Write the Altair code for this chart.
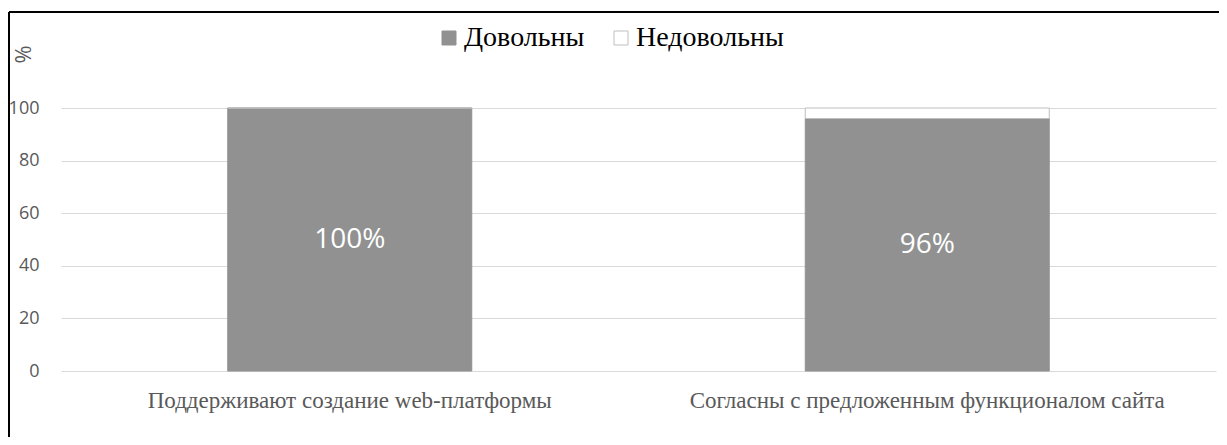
import altair as alt
import pandas as pd

categories = ["Поддерживают создание web-платформы", "Согласны с предложенным функционалом сайта"]
series = ["Довольны", "Недовольны"]
satisfied = [100, 96]
unsatisfied = [0, 4]
y_ticks = [0, 20, 40, 60, 80, 100]

rows = []
for i, c in enumerate(categories):
    rows.append({"cat": c, "group": series[0], "value": satisfied[i], "ord": 0})
    rows.append({"cat": c, "group": series[1], "value": unsatisfied[i], "ord": 1})
df = pd.DataFrame(rows)

W, H = 1155, 263

x_enc = alt.X("cat:N", sort=categories, title=None,
              scale=alt.Scale(paddingInner=0, paddingOuter=0),
              axis=alt.Axis(labelAngle=0, labelFont="Liberation Serif", labelFontSize=23,
                            labelColor="#595959", labelPadding=18, ticks=False, tickSize=0,
                            domain=False, grid=False, labelLimit=600))

bars = alt.Chart(df).mark_bar(size=244, strokeWidth=1).encode(
    x=x_enc,
    y=alt.Y("value:Q", stack="zero", title="%",
            scale=alt.Scale(domain=[0, 100], nice=False),
            axis=alt.Axis(values=y_ticks, labelFont="Open Sans", labelFontSize=18,
                          labelColor="#595959", labelPadding=22, ticks=False, tickSize=0,
                          domain=False, gridColor="#d9d9d9", gridWidth=1,
                          titleAngle=270, titleX=-38, titleY=-54, titleAlign="center",
                          titleBaseline="middle", titleFont="Open Sans", titleFontSize=22,
                          titleFontWeight="normal", titleColor="#595959")),
    fill=alt.Fill("group:N", sort=series, title=None,
                  scale=alt.Scale(domain=series, range=["#919191", "#ffffff"]),
                  legend=alt.Legend(orient="none", legendX=374, legendY=-84, direction="horizontal",
                                    symbolType="square", symbolSize=196, symbolStrokeWidth=1,
                                    labelFont="Liberation Serif", labelFontSize=28,
                                    labelColor="#000000", labelOffset=1, columnPadding=22,
                                    labelLimit=400)),
    stroke=alt.Stroke("group:N", sort=series, title=None,
                      scale=alt.Scale(domain=series, range=["#919191", "#bfbfbf"])),
    order=alt.Order("ord:Q"),
)

labels = alt.Chart(df).transform_filter(
    alt.datum.group == series[0]
).transform_calculate(
    mid="datum.value / 2",
    txt="datum.value + '%'"
).mark_text(font="Open Sans", fontSize=28, color="white", baseline="middle").encode(
    x=alt.X("cat:N", sort=categories),
    y=alt.Y("mid:Q"),
    text="txt:N",
)

frame_left = alt.Chart(df).mark_rule(color="black", strokeWidth=2).encode(
    x=alt.value(-52), y=alt.value(-96), y2=alt.value(H + 80))
frame_top = alt.Chart(df).mark_rule(color="black", strokeWidth=2).encode(
    x=alt.value(-52), x2=alt.value(W + 20), y=alt.value(-96))

chart = alt.layer(bars, labels, frame_left, frame_top).properties(
    width=W, height=H,
    padding={"left": 53, "top": 100, "right": 3, "bottom": 66},
    autosize=alt.AutoSizeParams(type="none"),
).configure(background="white").configure_view(stroke=None)

chart.save("out.html", embed_options={"renderer": "svg", "actions": False})
